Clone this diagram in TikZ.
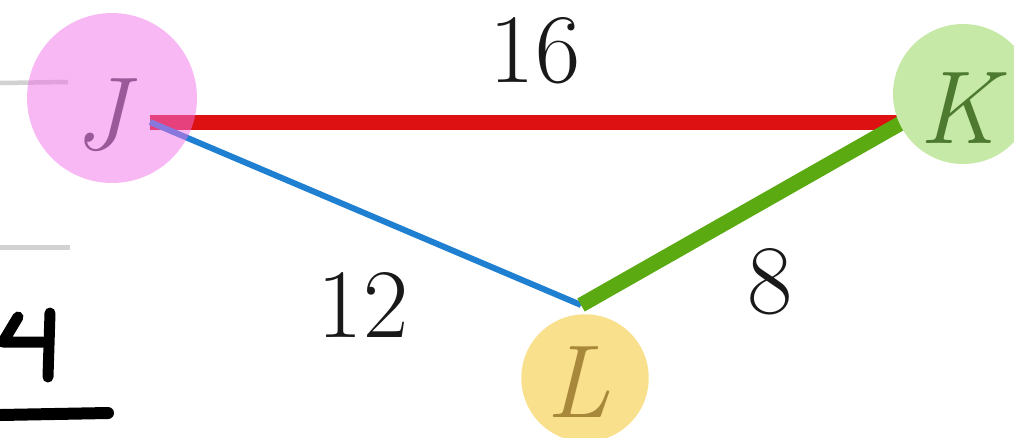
\documentclass[tikz,border=0pt]{standalone}
\usepackage{fontspec}
\usepackage{tikz}
\usetikzlibrary{positioning}

\definecolor{jfill}{HTML}{F171E9}
\definecolor{kfill}{HTML}{C6E9A8}
\definecolor{lfill}{HTML}{F9E08C}
\definecolor{jtext}{HTML}{9A5A9A}
\definecolor{ktext}{HTML}{4E7A30}
\definecolor{ltext}{HTML}{A8883A}
\definecolor{edgered}{HTML}{DD1111}
\definecolor{edgeblue}{HTML}{1F7FD0}
\definecolor{edgegreen}{HTML}{5BAA12}
\definecolor{rulegray}{HTML}{D2D2D2}

\tikzset{
    vertex/.style={circle, inner sep=0pt, minimum size=#1},
    vertexname/.style={inner sep=0pt, font=\fontsize{59}{62}\selectfont\itshape},
    weight/.style={inner sep=0pt, font=\fontsize{56}{60}\selectfont, text=black!90},
    thick edge/.style={line width=0.3cm},
    thin edge/.style={line width=0.12cm},
    pen/.style={line width=0.22cm, line cap=round, line join=round}
}

\begin{document}
\begin{tikzpicture}[x=0.02cm, y=-0.02cm]
        \useasboundingbox (0,0) rectangle (1014,437);
        \draw[rulegray, line width=0.09cm] (0,83) -- (68,82);
        \draw[rulegray, line width=0.1cm] (0,247) -- (70,247);
        \coordinate (Jp) at (150,122);
        \coordinate (Kp) at (903,122);
        \coordinate (Lp) at (581,305);
        \draw[edgered, thick edge] (Jp) -- (Kp);
        \draw[edgeblue, thin edge] (Jp) -- (Lp);
        \draw[edgegreen, thick edge] (Lp) -- (Kp);
        \node[vertex=3.4cm, fill=jfill, fill opacity=0.5] (J) at (112,98) {};
        \node[vertex=2.8cm, fill=kfill] (K) at (963,94) {};
        \node[vertex=2.55cm, fill=lfill] (L) at (585,378) {};
        \node[vertexname, text=jtext] (Jt) at (101,115) {J};
        \node[vertexname, text=ktext] (Kt) at (958,108) {K};
        \node[vertexname, text=ltext] (Lt) at (578,382) {L};
        \node[weight] (w16) at (535,51) {16};
        \node[weight] (w12) at (363,305) {12};
        \node[weight] (w8) at (770,282) {8};
        \draw[black, pen] (18,317) .. controls (10,330) .. (3,342) -- (43,342);
        \draw[black, pen] (50,313) -- (48,377);
        \draw[black, line width=0.24cm, line cap=round] (0,415) -- (108,413);
    \end{tikzpicture}
\end{document}
